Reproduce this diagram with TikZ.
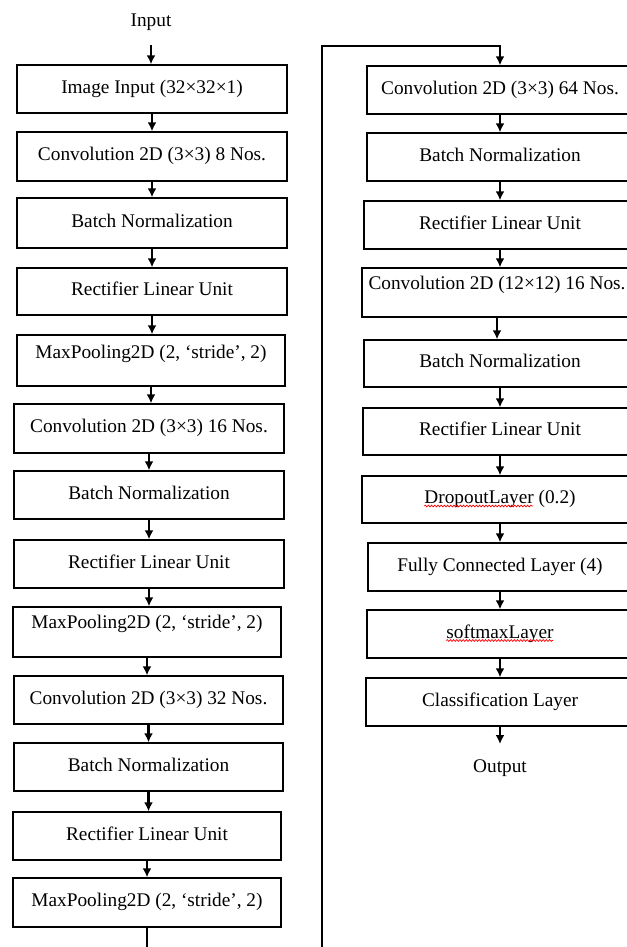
\documentclass[tikz,border=0pt]{standalone}
\usepackage{fontspec}
\setmainfont{Liberation Serif}
\usetikzlibrary{arrows.meta,decorations.pathmorphing}
\newcommand\mybox[7]{%
  \node[box, minimum width={(#4-#2)*1bp}, minimum height={(#5-#3)*1bp}] (#1) at ({(#2+#4)/2},{(#3+#5)/2}) {};
  \node[lbl, anchor=base] (#1-t) at ({(#2+#4)/2},#7) {#6};}
\begin{document}
\begin{tikzpicture}[x=1bp,y=-1bp,
  box/.style={draw=black, line width=1.4bp, fill=white, inner sep=0pt},
  lbl/.style={font=\fontsize{19.3bp}{23bp}\selectfont, inner sep=0pt},
  arr/.style={line width=2.1bp, -{Latex[length=9bp,width=9bp]}},
  feed/.style={line width=2.7bp, -{Latex[length=9bp,width=9bp]}},
  squig/.style={red, line width=0.7bp, decorate, decoration={snake, amplitude=0.9bp, segment length=3.2bp}}]
\useasboundingbox (0,0) rectangle (627,947);
\clip (0,0) rectangle (627,947);
\fill[white] (0,0) rectangle (627,947);
% left column
\node[lbl, anchor=base] (in) at (151,26) {Input};
\mybox{ii}{17}{65}{287}{113}{Image Input (32×32×1)}{93}
\mybox{c8}{17}{132}{287}{181}{Convolution 2D (3×3) 8 Nos.}{160.5}
\mybox{bna}{17}{198}{287}{248}{Batch Normalization}{227}
\mybox{ra}{17}{268}{287}{315}{Rectifier Linear Unit}{295}
\mybox{mpa}{17}{335}{285}{386}{MaxPooling2D (2, ‘stride’, 2)}{358}
\mybox{c16}{14}{404}{284}{453}{Convolution 2D (3×3) 16 Nos.}{432.5}
\mybox{bnb}{14}{471}{284}{519}{Batch Normalization}{499}
\mybox{rb}{14}{540}{284}{588}{Rectifier Linear Unit}{568}
\mybox{mpb}{13}{607}{281}{657}{MaxPooling2D (2, ‘stride’, 2)}{628}
\mybox{c32}{14}{676}{283}{724}{Convolution 2D (3×3) 32 Nos.}{704}
\mybox{bnc}{14}{743}{283}{791}{Batch Normalization}{771}
\mybox{rc}{13}{812}{281}{860}{Rectifier Linear Unit}{840}
\mybox{mpc}{13}{878}{281}{927}{MaxPooling2D (2, ‘stride’, 2)}{906}
% right column
\mybox{c64}{367}{66}{633}{114}{Convolution 2D (3×3) 64 Nos.}{94}
\mybox{bnd}{367}{133}{633}{181}{Batch Normalization}{161}
\mybox{rd}{364}{201}{636}{249}{Rectifier Linear Unit}{229}
\mybox{c12}{362}{268}{632}{317}{Convolution 2D (12×12) 16 Nos.}{289}
\mybox{bne}{364}{340}{636}{387}{Batch Normalization}{367.5}
\mybox{re}{363}{408}{637}{455}{Rectifier Linear Unit}{435.5}
\mybox{dr}{362}{476}{638}{523}{DropoutLayer (0.2)}{503.5}
\mybox{fc}{368}{543}{632}{591}{Fully Connected Layer (4)}{571}
\mybox{sm}{367}{610}{633}{658}{softmaxLayer}{638}
\mybox{cl}{366}{678}{634}{726}{Classification Layer}{706}
\node[lbl, anchor=base] (out) at (500,772) {Output};
% arrows
\draw[arr] (in.south |- 0,45) -- (in.south |- ii.north);
\foreach \a/\b in {ii/c8,c8/bna,bna/ra,ra/mpa,mpa/c16,c16/bnb,bnb/rb,rb/mpb,mpb/c32,c32/bnc,bnc/rc,rc/mpc,
                   c64/bnd,bnd/rd,rd/c12,c12/bne,bne/re,re/dr,dr/fc,fc/sm,sm/cl}
  \draw[arr] (\a.south) -- (\a.south |- \b.north);
\draw[arr] (cl.south) -- (cl.south |- 0,744);
% feedback connector from left column to right column
\coordinate (loopb) at (322,975);
\coordinate (turna) at (322,46);
\draw[feed] (mpc.south) |- (loopb) -- (turna) -| (c64.north);
% spell-check underlines
\draw[squig] ([yshift=-2.5bp]dr-t.base west) -- ++(109,0);
\draw[squig] ([yshift=-2.5bp]sm-t.base west) -- ++(107,0);
\end{tikzpicture}
\end{document}
